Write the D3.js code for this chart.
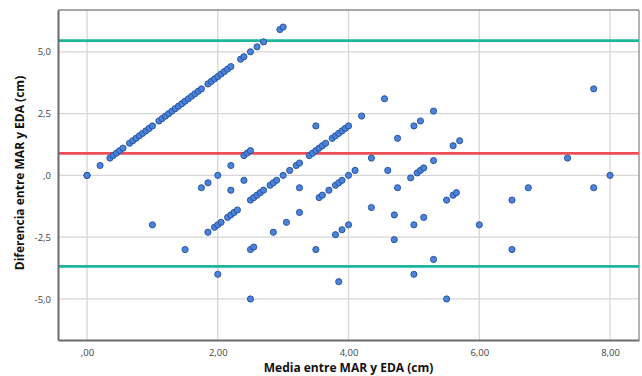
<!DOCTYPE html>
<html>
<head>
<meta charset="utf-8">
<script src="https://cdn.jsdelivr.net/npm/d3@7"></script>
<style>
  html, body { margin: 0; padding: 0; background: #fff; }
  svg { display: block; }
</style>
</head>
<body>
<script>
// ---- data ----
const meanVals = [
  0, 0, 0.2, 0.35, 0.4, 0.45, 0.5, 0.55, 0.65, 0.7, 0.75, 0.8, 0.85, 0.9, 0.95, 1.0,
  1.1, 1.15, 1.2, 1.25, 1.3, 1.35, 1.4, 1.45, 1.5, 1.55, 1.6, 1.65, 1.7, 1.75,
  1.85, 1.9, 1.95, 2.0, 2.05, 2.1, 2.15, 2.2, 2.35, 2.4, 2.5, 2.6, 2.7, 2.95, 3.0,
  1.75, 1.85, 2.0, 2.2, 2.4, 2.45, 2.5, 2.2, 2.4,
  1.85, 1.95, 2.0, 2.05, 2.15, 2.2, 2.25, 2.3, 2.5, 2.55, 2.6, 2.65, 2.7, 2.8, 2.85, 2.9,
  3.0, 3.1, 3.2, 3.25, 3.4, 3.45, 3.5, 3.55, 3.6, 3.65, 3.75, 3.8, 3.85, 3.9, 3.95, 4.0,
  1.0, 1.5, 2.0, 2.5, 2.5, 2.55, 2.85, 3.05, 3.25, 3.25, 3.5, 3.5,
  3.55, 3.6, 3.7, 3.8, 3.85, 3.9, 4.0, 4.1, 3.8, 3.9, 4.0, 3.85,
  4.2, 4.55, 4.35, 4.6, 4.75, 4.75, 4.35, 4.7, 4.7, 5.0, 5.1, 5.3, 5.6, 5.7, 5.3,
  4.95, 5.05, 5.1, 5.15, 5.0, 5.15, 5.3, 5.0, 5.5, 5.5, 5.6, 5.65,
  6.0, 6.5, 6.5, 6.75, 7.35, 7.75, 7.75, 8.0
];
const diffVals = [
  0, 0, 0.4, 0.7, 0.8, 0.9, 1.0, 1.1, 1.3, 1.4, 1.5, 1.6, 1.7, 1.8, 1.9, 2.0,
  2.2, 2.3, 2.4, 2.5, 2.6, 2.7, 2.8, 2.9, 3.0, 3.1, 3.2, 3.3, 3.4, 3.5,
  3.7, 3.8, 3.9, 4.0, 4.1, 4.2, 4.3, 4.4, 4.7, 4.8, 5.0, 5.2, 5.4, 5.9, 6.0,
  -0.5, -0.3, 0.0, 0.4, 0.8, 0.9, 1.0, -0.6, -0.2,
  -2.3, -2.1, -2.0, -1.9, -1.7, -1.6, -1.5, -1.4, -1.0, -0.9, -0.8, -0.7, -0.6, -0.4, -0.3, -0.2,
  0.0, 0.2, 0.4, 0.5, 0.8, 0.9, 1.0, 1.1, 1.2, 1.3, 1.5, 1.6, 1.7, 1.8, 1.9, 2.0,
  -2.0, -3.0, -4.0, -5.0, -3.0, -2.9, -2.3, -1.9, -1.5, -0.5, -3.0, 2.0,
  -0.9, -0.8, -0.6, -0.4, -0.3, -0.2, 0.0, 0.2, -2.4, -2.2, -2.0, -4.3,
  2.4, 3.1, 0.7, 0.2, 1.5, -0.5, -1.3, -1.6, -2.6, 2.0, 2.2, 2.6, 1.2, 1.4, 0.6,
  -0.1, 0.1, 0.2, 0.3, -2.0, -1.7, -3.4, -4.0, -5.0, -1.0, -0.8, -0.7,
  -2.0, -1.0, -3.0, -0.5, 0.7, 3.5, -0.5, 0.0
];
const meanDiff = 0.89;
const upperLimit = 5.45;
const lowerLimit = -3.68;
const xTickVals = [0, 2, 4, 6, 8];
const xTickLabels = [",00", "2,00", "4,00", "6,00", "8,00"];
const yTickVals = [-5, -2.5, 0, 2.5, 5];
const yTickLabels = ["-5,0", "-2,5", ",0", "2,5", "5,0"];
const xTitle = "Media entre MAR y EDA (cm)";
const yTitle = "Diferencia entre MAR y EDA (cm)";

// ---- layout ----
const W = 642, H = 376;
const L = 58, R = 639, T = 10, B = 340;

const svg = d3.select("body").append("svg").attr("width", W).attr("height", H);

const x = d3.scaleLinear().domain([-0.444, 8.443]).range([L, R]);
const y = d3.scaleLinear().domain([-6.66, 6.69]).range([B, T]);

// gridlines
const grid = svg.append("g");
grid.selectAll("line.vx").data(xTickVals).join("line")
  .attr("x1", d => x(d)).attr("x2", d => x(d)).attr("y1", T).attr("y2", B)
  .attr("stroke", "#d6d6d6").attr("stroke-width", 1.3);
grid.selectAll("line.hy").data(yTickVals).join("line")
  .attr("x1", L).attr("x2", R).attr("y1", d => y(d)).attr("y2", d => y(d))
  .attr("stroke", "#d6d6d6").attr("stroke-width", 1.3);

// frame (top/right lighter)
svg.append("line").attr("x1", L).attr("x2", R).attr("y1", T).attr("y2", T)
  .attr("stroke", "#8a8a8a").attr("stroke-width", 1.3);
svg.append("line").attr("x1", R).attr("x2", R).attr("y1", T).attr("y2", B)
  .attr("stroke", "#8a8a8a").attr("stroke-width", 1.3);

// reference lines
const refs = [
  { v: upperLimit, c: "#1fb49c" },
  { v: lowerLimit, c: "#1fb49c" },
  { v: meanDiff, c: "#ec4f55" }
];
svg.selectAll("line.ref").data(refs).join("line")
  .attr("x1", L).attr("x2", R)
  .attr("y1", d => y(d.v)).attr("y2", d => y(d.v))
  .attr("stroke", d => d.c).attr("stroke-width", 2.8);

// points
const pts = meanVals.map((m, i) => ({ m, d: diffVals[i] }));
svg.append("g").selectAll("circle").data(pts).join("circle")
  .attr("cx", d => x(d.m)).attr("cy", d => y(d.d)).attr("r", 3.1)
  .attr("fill", "#4a82dc").attr("stroke", "#224f9a").attr("stroke-width", 0.9);

// axes
const xAxis = d3.axisBottom(x).tickValues(xTickVals)
  .tickFormat((d, i) => xTickLabels[i]).tickSize(0).tickPadding(9);
const gx = svg.append("g").attr("transform", `translate(0,${B})`).call(xAxis);
gx.select(".domain").attr("stroke", "#6b6b6b").attr("stroke-width", 2);
gx.selectAll("text").attr("font-family", "'Open Sans', sans-serif")
  .attr("font-size", 9.5).attr("fill", "#444");

const yAxis = d3.axisLeft(y).tickValues(yTickVals)
  .tickFormat((d, i) => yTickLabels[i]).tickSize(0).tickPadding(7);
const gy = svg.append("g").attr("transform", `translate(${L},0)`).call(yAxis);
gy.select(".domain").attr("stroke", "#6b6b6b").attr("stroke-width", 2);
gy.selectAll("text").attr("font-family", "'Open Sans', sans-serif")
  .attr("font-size", 9.5).attr("fill", "#444");

// titles
svg.append("text").attr("x", (L + R) / 2).attr("y", 372)
  .attr("text-anchor", "middle")
  .attr("font-family", "'Open Sans', sans-serif").attr("font-weight", "bold")
  .attr("font-size", 12).attr("fill", "#111").text(xTitle);
svg.append("text")
  .attr("transform", `translate(24,${(T + B) / 2 - 2}) rotate(-90)`)
  .attr("text-anchor", "middle")
  .attr("font-family", "'Open Sans', sans-serif").attr("font-weight", "bold")
  .attr("font-size", 12).attr("fill", "#111").text(yTitle);
</script>
</body>
</html>
